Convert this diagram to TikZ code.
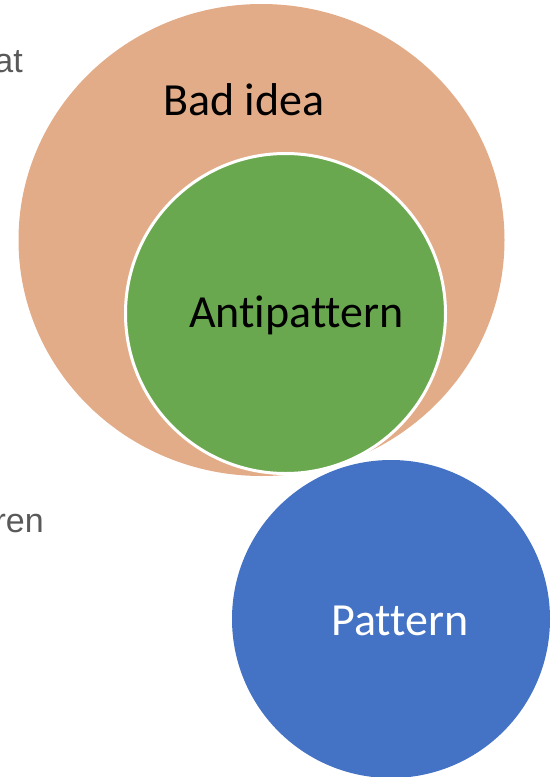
\documentclass[tikz,border=0pt]{standalone}
\usepackage{fontspec}
\setmainfont[Ligatures = NoCommon]{Carlito}
\newfontfamily\slidefont{Liberation Sans}
\usetikzlibrary{shapes.geometric}

\definecolor{badorange}{HTML}{E3AC89}
\definecolor{antigreen}{HTML}{6AA84F}
\definecolor{patblue}{HTML}{4472C4}
\definecolor{slidegrey}{HTML}{595959}

\tikzset{
	setblob/.style = {inner sep = 0, outer sep = 0, draw = none},
	setlabel/.style = {inner sep = 0, font = \fontsize{46}{55}\selectfont},
	cuttext/.style = {inner sep = 0, anchor = base east, text = slidegrey,
		font = \slidefont\fontsize{34}{40}\selectfont}
}

\begin{document}
\begin{tikzpicture}[x = 1pt, y = -1pt]

	\useasboundingbox (0, 0) rectangle (557, 777);
	\clip (0, 0) rectangle (557, 777);

	% Cut-off text of the slide behind
	
	\node [cuttext] (textat) at (23, 72) {at};
	\node [cuttext] (textren) at (44, 532) {ren};
	
	% Sets
	
	\node [setblob, ellipse, fill = badorange, minimum width = 486, minimum height = 472]
		(badidea) at (261.5, 240) {};
	\node [setblob, circle, fill = antigreen, draw = white, line width = 3pt, minimum size = 320]
		(antipattern) at (285.5, 313.5) {};
	\node [setblob, circle, fill = patblue, minimum size = 318]
		(pattern) at (391, 619) {};
	
	% Set names
	
	\node [setlabel] (badlabel) at (244, 100) {Bad idea};
	\node [setlabel] (antilabel) at (296.5, 315) {Antipattern};
	\node [setlabel, text = white] (patlabel) at (400, 621) {Pattern};
	
\end{tikzpicture}
\end{document}
